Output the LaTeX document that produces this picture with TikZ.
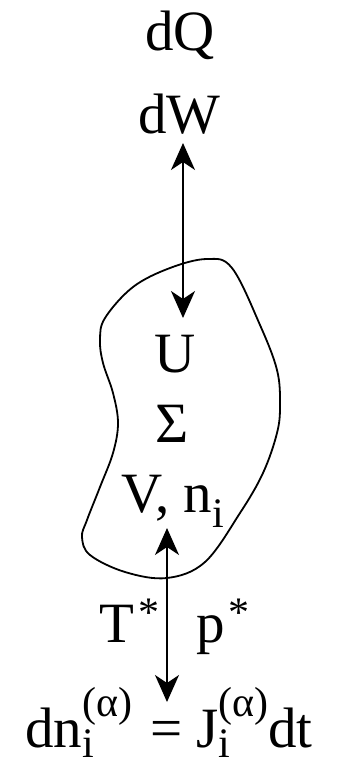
\documentclass[tikz,border=0pt]{standalone}
\usepackage{fontspec}
\setmainfont{Liberation Serif}
\usetikzlibrary{arrows.meta}
\newcommand\bigf{\fontsize{57}{60}\selectfont}
\newcommand\smf{\fontsize{42}{44}\selectfont}
\newcommand\supsubtx[3]{\rlap{\raisebox{#3}{\smf #2}}\raisebox{31pt}{\smf #1}}
\tikzset{
  lbl/.style={inner sep=0pt, anchor=base west, font=\bigf},
  tipst/.tip={Stealth[length=27pt,width=24pt,inset=8pt]},
  conn/.style={line width=1.8pt, tipst-tipst},
  blob/.style={line width=1.8pt}
}
\begin{document}
\begin{tikzpicture}[x=1pt,y=-1pt]
\useasboundingbox (0,0) rectangle (338,761);
% texts
\node[lbl] (dQ) at (145,50) {dQ};
\node[lbl] (dW) at (138,133) {dW};
\node[lbl] (U) at (154,372) {U};
\node[lbl] (S) at (155,442) {Σ};
\node[lbl] (vn) at (121,512) {V, n\raisebox{-15pt}{\smf i}};
\node[lbl] (T) at (99,642) {T\kern4pt\raisebox{16pt}{\smf *}};
\node[lbl] (p) at (196,642) {p\kern4pt\raisebox{16pt}{\smf *}};
\node[lbl] (eq) at (25,747) {dn\supsubtx{(α)}{i}{-10pt}\hspace{18pt}=\hspace{14pt}J\supsubtx{(α)}{i}{-10pt}dt};
% system boundary
\draw[blob] plot[smooth cycle, tension=0.6] coordinates {
 (207,259) (232,268) (260,325) (277,370) (280,405) (277,433) (263,473)
 (240,513) (205,562) (167,578) (125,572) (90,555) (82,537) (87,520)
 (100,487) (113,453) (118,423) (113,393) (103,363) (100,340) (105,318)
 (133,287) (170,268)};
% connectors
\coordinate (a1) at (183,143);
\coordinate (a2) at (183,318);
\coordinate (b1) at (167,528);
\coordinate (b2) at (167,702);
\draw[conn] (a1) -- (a2);
\draw[conn] (b1) -- (b2);
\end{tikzpicture}
\end{document}
